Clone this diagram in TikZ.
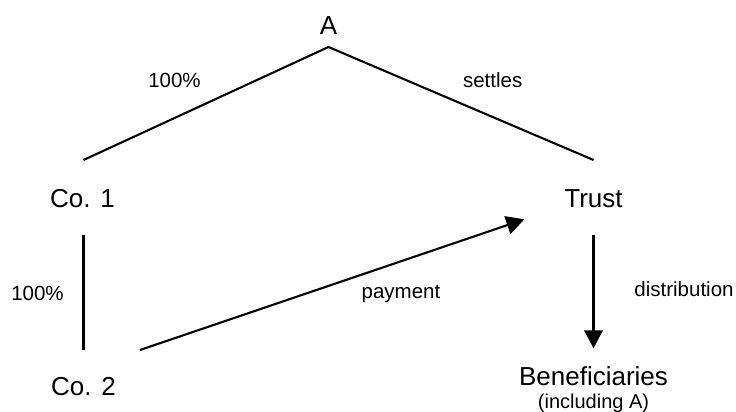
\documentclass[tikz,border=0pt]{standalone}
\usepackage{fontspec}
\setmainfont{Liberation Sans}
\usetikzlibrary{arrows.meta}
\begin{document}
\begin{tikzpicture}[x=1pt,y=-1pt,
  party/.style={inner sep=0pt,anchor=base,font=\fontsize{26}{30}\selectfont},
  tag/.style={inner sep=0pt,anchor=base,font=\fontsize{20.5}{24}\selectfont},
  note/.style={inner sep=0pt,anchor=base,font=\fontsize{20}{24}\selectfont},
  link/.style={line width=2.1pt},
  flow/.style={line width=2.1pt,-{Triangle[length=18pt,width=18.5pt]}}]
\useasboundingbox (0,0) rectangle (736,412);

% entities
\node[party] (a) at (328.5,35) {A};
\node[party] (co1) at (82.5,207.7) {Co. 1};
\node[party] (trust) at (593.5,207.7) {Trust};
\node[party] (co2) at (83.5,395) {Co. 2};
\node[party] (ben) at (593.5,385) {Beneficiaries};
\node[note] (incl) at (593.5,408.5) {(including A)};

% relationship labels
\node[tag] (own1) at (174.5,88) {100\%};
\node[tag] (settle) at (492.7,88) {settles};
\node[tag] (own2) at (37.5,300) {100\%};
\node[tag] (pay) at (401,298) {payment};
\node[tag] (dist) at (684,296) {distribution};

% ownership and settlement
\draw[link] ([shift={(1,-47.7)}]co1.base) -- ([shift={(0,12)}]a.base)
            -- ([shift={(0,-47.7)}]trust.base);
\draw[link] ([shift={(1,27.3)}]co1.base) -- ([shift={(0,-45)}]co2.base);

% money flows
\draw[flow] ([shift={(56.5,-45)}]co2.base) -- ([shift={(-69.1,11.6)}]trust.base);
\draw[flow] ([shift={(0,27.3)}]trust.base) -- ([shift={(0,-36.7)}]ben.base);
\end{tikzpicture}
\end{document}
